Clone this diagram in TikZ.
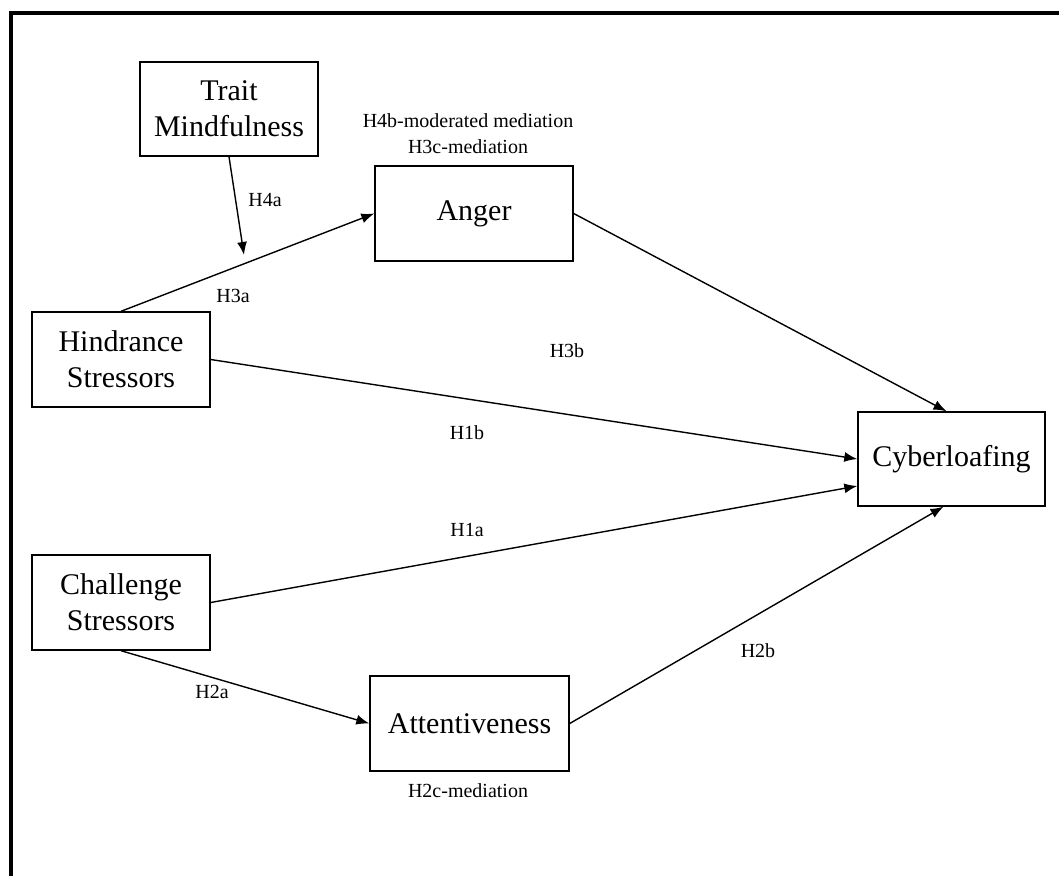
\documentclass[tikz,border=0pt]{standalone}
\usepackage{fontspec}
\setmainfont{Liberation Serif}
\usetikzlibrary{arrows.meta}
\begin{document}
\begin{tikzpicture}[x=1pt,y=-1pt,
  box/.style={draw,line width=1.4pt,inner sep=0pt,align=center,font=\fontsize{30}{36}\selectfont},
  lbl/.style={inner sep=0pt,align=center,font=\fontsize{20}{26}\selectfont},
  conn/.style={line width=1.4pt,-{Latex[length=13pt,width=10pt]}}]
\useasboundingbox (0,0) rectangle (1059,876);
\draw[line width=4pt,line join=miter] (11,876) -- (11,13) -- (1059,13);
\node[box,minimum width=178pt,minimum height=94pt] (trait) at (229,109) {Trait\\Mindfulness};
\node[box,minimum width=198pt,minimum height=95pt] (anger) at (474,213.5) {Anger};
\node[box,minimum width=178pt,minimum height=95pt] (hind) at (121,359.5) {Hindrance\\Stressors};
\node[box,minimum width=178pt,minimum height=95pt] (chal) at (121,602.5) {Challenge\\Stressors};
\node[box,minimum width=199pt,minimum height=95pt] (att) at (469.5,723.5) {Attentiveness};
\node[box,minimum width=187pt,minimum height=94pt] (cyber) at (951.5,459) {Cyberloafing};
\coordinate (mod) at (244,255);
\draw[conn] (trait.south) -- (mod);
\draw[conn] (hind.north) -- (anger.west);
\draw[conn] (hind.east) -- (cyber.west);
\draw[conn] (chal.east) -- ([yshift=-27pt]cyber.west);
\draw[conn] (chal.south) -- (att.west);
\draw[conn] (anger.east) -- ([xshift=-5pt]cyber.north);
\draw[conn] (att.east) -- ([xshift=-8pt]cyber.south);
\node[lbl] (h4b) at (468,134) {H4b-moderated mediation\\H3c-mediation};
\node[lbl] (h4a) at (265,200) {H4a};
\node[lbl] (h3a) at (233,296) {H3a};
\node[lbl] (h3b) at (567,351) {H3b};
\node[lbl] (h1b) at (467,433) {H1b};
\node[lbl] (h1a) at (467,530) {H1a};
\node[lbl] (h2b) at (758,651) {H2b};
\node[lbl] (h2a) at (212,692) {H2a};
\node[lbl] (h2c) at (468,791) {H2c-mediation};
\end{tikzpicture}
\end{document}
